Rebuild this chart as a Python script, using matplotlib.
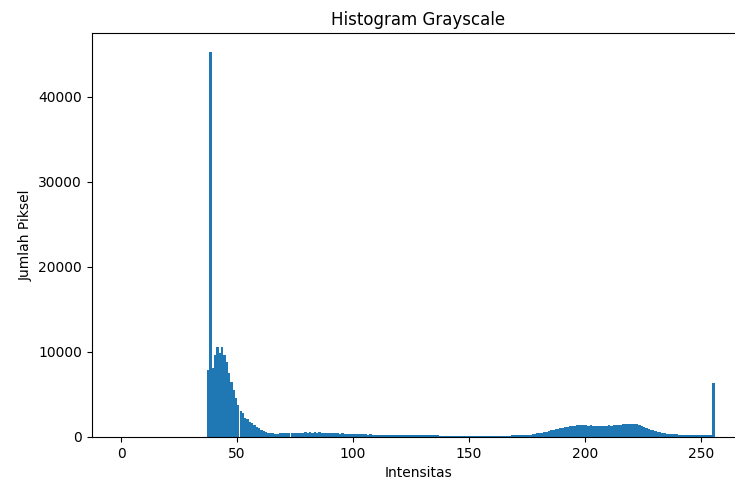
import matplotlib
matplotlib.use("Agg")
import matplotlib.pyplot as plt
import numpy as np

# Jumlah piksel per intensitas (0..255)
levels = np.arange(256)

seg_dark = (37, [7900, 45200, 8100, 9650, 10550, 9850, 10550, 9650, 8850, 7500,
                 6500, 5500, 4550, 3750, 3000, 2800, 2200, 2080, 1800, 1600,
                 1400, 1150, 1020, 820, 700, 600, 510, 450])
seg_low = (65, [420, 400, 380, 420, 450, 430, 470, 440, 480, 460,
                500, 470, 520, 480, 540, 500, 560, 510, 540, 500,
                530, 480, 520, 470, 500, 450, 480, 430, 450, 410,
                430, 390, 400, 370, 380, 350])
seg_mid = (101, [340, 320, 330, 300, 310, 290, 300, 280, 290, 270,
                 280, 270, 260, 280, 260, 270, 250, 260, 240, 250,
                 240, 230, 250, 230, 240, 220, 230, 210, 220, 200,
                 210, 190, 200, 180, 190])
seg_flat = (136, [180, 170, 175, 165, 170, 160, 170, 165, 160, 170,
                  160, 165, 155, 160, 165, 160, 155, 160, 150, 160,
                  155, 150, 160, 155, 150, 160, 155, 165, 160, 170,
                  165, 175, 180, 185, 190, 200, 210, 220])
seg_bright = (174, [240, 260, 290, 330, 370, 420, 470, 520, 580, 640,
                    700, 770, 840, 900, 960, 1020, 1080, 1150, 1200, 1240,
                    1290, 1330, 1360, 1380, 1400, 1370, 1410, 1330, 1380, 1300,
                    1340, 1280, 1320, 1300, 1350, 1320, 1380, 1350, 1420, 1400,
                    1460, 1440, 1500, 1480, 1560, 1520, 1580, 1540, 1500, 1420,
                    1330, 1220, 1100, 980, 870, 770, 680, 600, 540, 480,
                    440, 400, 370, 340, 320, 300, 290, 280, 270, 260,
                    250, 250, 240, 230, 230, 220, 220, 210, 200, 200,
                    260, 6300])

counts = np.zeros(256)
for start, vals in (seg_dark, seg_low, seg_mid, seg_flat, seg_bright):
    counts[start:start + len(vals)] = vals[:256 - start]

fig = plt.figure(figsize=(7.35, 4.83), dpi=100)
# sumbu sedikit melewati tepi kanan, seperti pada gambar asli yang terpotong
ax = fig.add_axes([91.6 / 735, 46 / 483, 652.8 / 735, 404 / 483])

ax.hist(levels, bins=256, range=(0, 256), weights=counts)
ax.set_title("Histogram Grayscale")
ax.set_xlabel("Intensitas")
ax.set_ylabel("Jumlah Piksel")

fig.savefig("out.png", dpi=100)
